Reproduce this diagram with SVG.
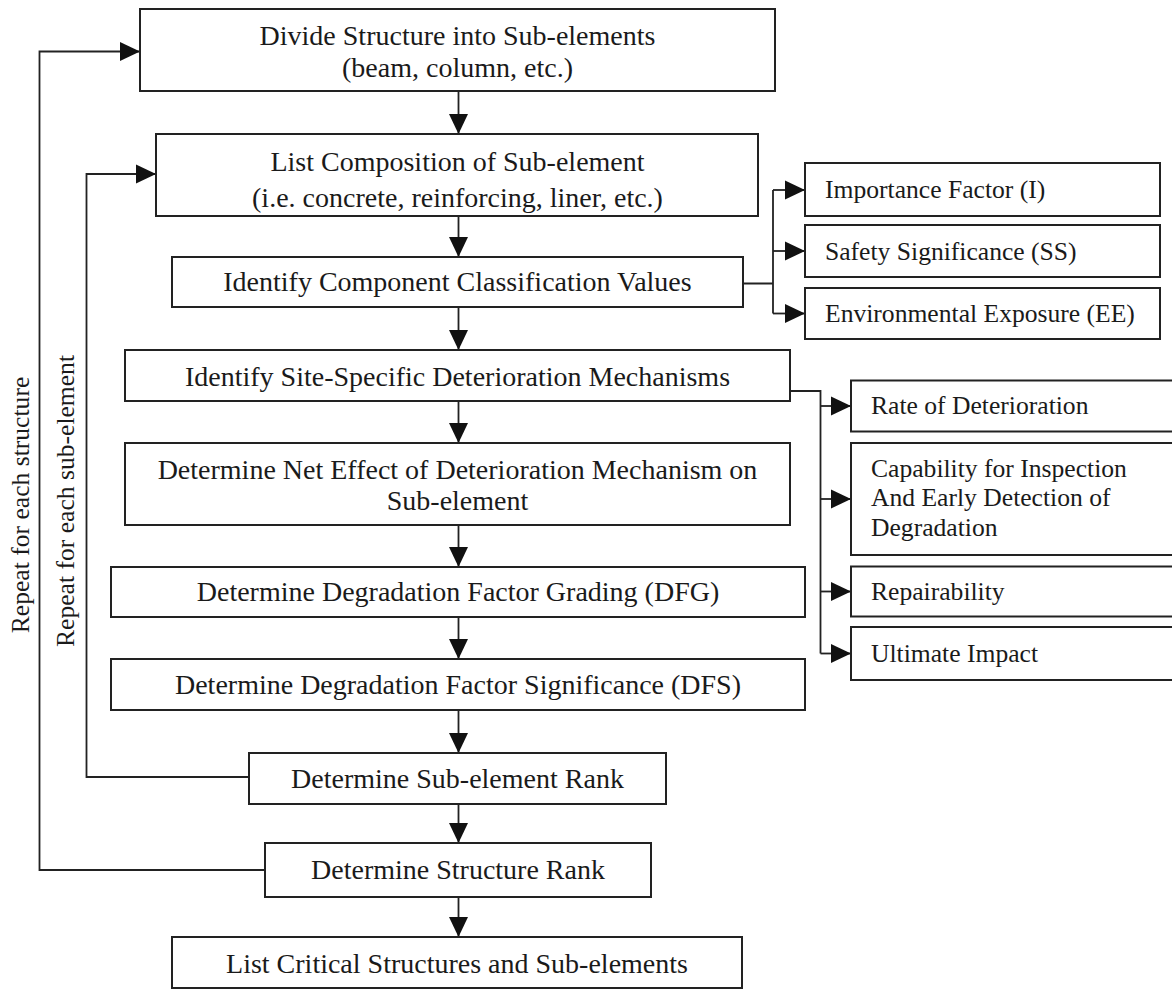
<svg xmlns="http://www.w3.org/2000/svg" width="1172" height="989" viewBox="0 0 1172 989">
<style>
.box{fill:#fff;stroke:#222;stroke-width:2}
.ln{fill:none;stroke:#222;stroke-width:1.8}
.t{font-family:"Liberation Serif","Times New Roman",serif;font-size:28px;fill:#1a1a1a;text-anchor:middle}
.r{font-family:"Liberation Serif","Times New Roman",serif;font-size:25.6px;fill:#1a1a1a}
.v{font-family:"Liberation Serif","Times New Roman",serif;font-size:25.6px;fill:#1a1a1a;text-anchor:middle}
</style>
<defs>
<marker id="ah" markerUnits="userSpaceOnUse" markerWidth="20" markerHeight="20" refX="20" refY="10" orient="auto">
<path d="M0,0.5 L20,10 L0,19.5 Z" fill="#111"/>
</marker>
</defs>
<rect width="1172" height="989" fill="#fff"/>
<g id="connectors">
<line class="ln" x1="458.5" y1="91" x2="458.5" y2="134" marker-end="url(#ah)"/>
<line class="ln" x1="458.5" y1="216" x2="458.5" y2="257" marker-end="url(#ah)"/>
<line class="ln" x1="458.5" y1="307" x2="458.5" y2="350" marker-end="url(#ah)"/>
<line class="ln" x1="458.5" y1="401" x2="458.5" y2="443" marker-end="url(#ah)"/>
<line class="ln" x1="458.5" y1="525" x2="458.5" y2="567" marker-end="url(#ah)"/>
<line class="ln" x1="458.5" y1="617" x2="458.5" y2="659" marker-end="url(#ah)"/>
<line class="ln" x1="458.5" y1="710" x2="458.5" y2="753" marker-end="url(#ah)"/>
<line class="ln" x1="458.5" y1="804" x2="458.5" y2="843" marker-end="url(#ah)"/>
<line class="ln" x1="458.5" y1="897" x2="458.5" y2="937" marker-end="url(#ah)"/>
<path class="ln" d="M265,870 H39.5 V51.5 H140" marker-end="url(#ah)"/>
<path class="ln" d="M249,777 H86.5 V174 H156" marker-end="url(#ah)"/>
<path class="ln" d="M743,283.5 H773 M773,190 V313.5"/>
<line class="ln" x1="773" y1="190" x2="805" y2="190" marker-end="url(#ah)"/>
<line class="ln" x1="773" y1="251" x2="805" y2="251" marker-end="url(#ah)"/>
<line class="ln" x1="773" y1="313.5" x2="805" y2="313.5" marker-end="url(#ah)"/>
<path class="ln" d="M790,391 H820.5 V653.5"/>
<line class="ln" x1="820.5" y1="406" x2="851" y2="406" marker-end="url(#ah)"/>
<line class="ln" x1="820.5" y1="499" x2="851" y2="499" marker-end="url(#ah)"/>
<line class="ln" x1="820.5" y1="591.5" x2="851" y2="591.5" marker-end="url(#ah)"/>
<line class="ln" x1="820.5" y1="653.5" x2="851" y2="653.5" marker-end="url(#ah)"/>
</g>
<g id="n1"><rect class="box" x="140" y="9" width="635" height="82"/>
<text class="t" x="457.5" y="44.5">Divide Structure into Sub-elements</text>
<text class="t" x="457.5" y="77">(beam, column, etc.)</text></g>
<g id="n2"><rect class="box" x="156" y="134" width="602" height="82"/>
<text class="t" x="457.5" y="171">List Composition of Sub-element</text>
<text class="t" x="457.5" y="207">(i.e. concrete, reinforcing, liner, etc.)</text></g>
<g id="n3"><rect class="box" x="172" y="257" width="571" height="50"/>
<text class="t" x="457.5" y="291">Identify Component Classification Values</text></g>
<g id="n4"><rect class="box" x="125" y="350" width="665" height="51"/>
<text class="t" x="457.5" y="386">Identify Site-Specific Deterioration Mechanisms</text></g>
<g id="n5"><rect class="box" x="125" y="443" width="665" height="82"/>
<text class="t" x="457.5" y="479">Determine Net Effect of Deterioration Mechanism on</text>
<text class="t" x="457.5" y="510">Sub-element</text></g>
<g id="n6"><rect class="box" x="111" y="567" width="694" height="50"/>
<text class="t" x="458" y="601">Determine Degradation Factor Grading (DFG)</text></g>
<g id="n7"><rect class="box" x="111" y="659" width="694" height="51"/>
<text class="t" x="458" y="694">Determine Degradation Factor Significance (DFS)</text></g>
<g id="n8"><rect class="box" x="249" y="753" width="417" height="51"/>
<text class="t" x="457.5" y="788">Determine Sub-element Rank</text></g>
<g id="n9"><rect class="box" x="265" y="843" width="386" height="54"/>
<text class="t" x="458" y="879">Determine Structure Rank</text></g>
<g id="n10"><rect class="box" x="172" y="937" width="570" height="51"/>
<text class="t" x="457" y="973">List Critical Structures and Sub-elements</text></g>
<g id="r1"><rect class="box" x="805" y="163" width="355" height="53"/>
<text class="r" x="825" y="198">Importance Factor (I)</text></g>
<g id="r2"><rect class="box" x="805" y="225" width="355" height="52"/>
<text class="r" x="825" y="260">Safety Significance (SS)</text></g>
<g id="r3"><rect class="box" x="805" y="288" width="355" height="51"/>
<text class="r" x="825" y="322">Environmental Exposure (EE)</text></g>
<g id="s1"><rect class="box" x="851" y="380.5" width="330" height="51"/>
<text class="r" x="871" y="414">Rate of Deterioration</text></g>
<g id="s2"><rect class="box" x="851" y="443" width="330" height="112"/>
<text class="r" x="871" y="476.5">Capability for Inspection</text>
<text class="r" x="871" y="506">And Early Detection of</text>
<text class="r" x="871" y="535.5">Degradation</text></g>
<g id="s3"><rect class="box" x="851" y="566.5" width="330" height="50"/>
<text class="r" x="871" y="600">Repairability</text></g>
<g id="s4"><rect class="box" x="851" y="627" width="330" height="53"/>
<text class="r" x="871" y="662">Ultimate Impact</text></g>
<g id="labels">
<text class="v" transform="translate(29,505) rotate(-90)">Repeat for each structure</text>
<text class="v" transform="translate(74,501) rotate(-90)">Repeat for each sub-element</text>
</g>
</svg>
